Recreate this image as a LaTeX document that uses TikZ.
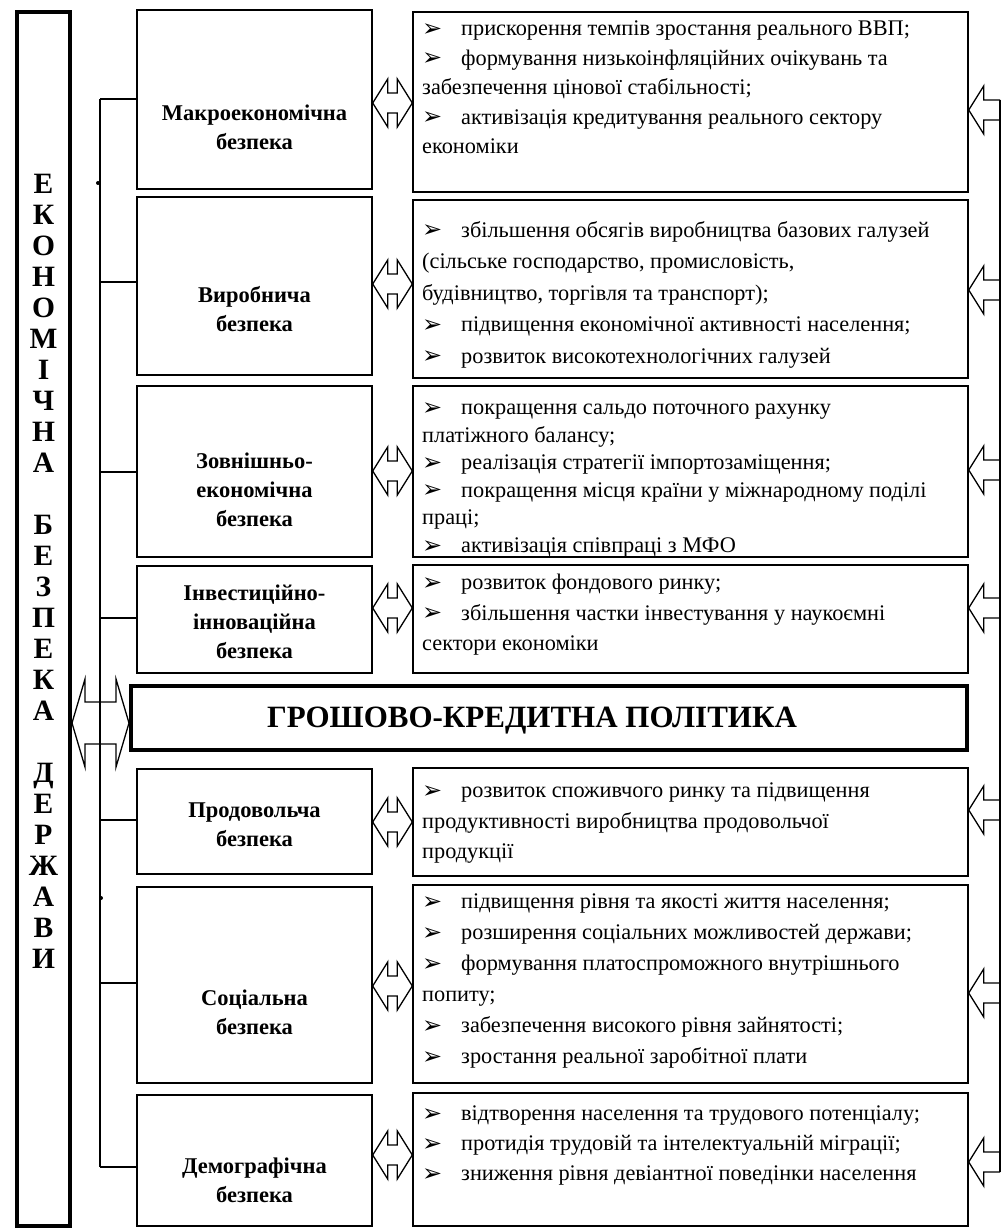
\documentclass[tikz,border=0pt]{standalone}
\usepackage{fontspec}
\setmainfont{Liberation Serif}
\newfontfamily\symf{DejaVu Sans}
\usetikzlibrary{calc}
\newcommand\bl{\makebox[39pt][l]{\raisebox{-0.5pt}{\symf\fontsize{24}{24}\selectfont ➢}}}
% double hollow arrow between two nodes at height y
\newcommand\dblarrow[6]{% left node, right node, y, head length, head half, shaft half
  \draw[arr] (#1.east|-0,#3) -- ++(#4,-#5) -- ++(0,{#5-#6})
    -- ($(#2.west|-0,#3)+(-#4,-#6)$) -- ++(0,{-(#5-#6)}) -- (#2.west|-0,#3)
    -- ++(-#4,#5) -- ++(0,{-(#5-#6)}) -- ($(#1.east|-0,#3)+(#4,#6)$)
    -- ++(0,{#5-#6}) -- cycle;}
% single hollow arrow from the right rail to a node
\newcommand\railarrow[2]{% node, y
  \draw[arr] (rail|-0,{#2-10}) -- ($(#1.east|-0,#2)+(15,-10)$) -- ++(0,-14)
    -- (#1.east|-0,#2) -- ++(15,24) -- ++(0,-14) -- (rail|-0,{#2+10});}
\begin{document}
\begin{tikzpicture}[x=1pt,y=-1pt,
  box/.style={draw, line width=1.4pt, inner sep=0pt},
  heavybox/.style={draw, line width=4pt, inner sep=0pt},
  lab/.style={font=\bfseries\fontsize{22.5}{29}\selectfont, align=center, inner sep=0pt},
  txt/.style={anchor=north west, inner sep=0pt, align=left},
  conn/.style={line width=1.4pt},
  arr/.style={line width=1.3pt, line join=miter}]
\useasboundingbox[fill=white] (0,0) rectangle (1005,1230);

% left state column
\node[heavybox, minimum width=53pt, minimum height=1213pt] (state) at (43.5,619) {};
\node[font=\bfseries\fontsize{29.5}{31}\selectfont, align=center, inner sep=0pt] (statetxt) at (43.5,571)
 {Е\\К\\О\\Н\\О\\М\\І\\Ч\\Н\\А\\~\\Б\\Е\\З\\П\\Е\\К\\А\\~\\Д\\Е\\Р\\Ж\\А\\В\\И};

% left category boxes
\node[box, minimum width=235pt, minimum height=179pt] (L1) at (254.5,99.5) {};
\node[box, minimum width=235pt, minimum height=178pt] (L2) at (254.5,286) {};
\node[box, minimum width=235pt, minimum height=171pt] (L3) at (254.5,471.5) {};
\node[box, minimum width=235pt, minimum height=107pt] (L4) at (254.5,619.5) {};
\node[box, minimum width=235pt, minimum height=105pt] (L5) at (254.5,821.5) {};
\node[box, minimum width=235pt, minimum height=196pt] (L6) at (254.5,985) {};
\node[box, minimum width=235pt, minimum height=131pt] (L7) at (254.5,1160.5) {};

\node[lab] (L1t) at (254.5,127.5) {Макроекономічна\\безпека};
\node[lab] (L2t) at (254.5,309) {Виробнича\\безпека};
\node[lab] (L3t) at (254.5,490) {Зовнішньо-\\економічна\\безпека};
\node[lab] (L4t) at (254.5,622) {Інвестиційно-\\інноваційна\\безпека};
\node[lab] (L5t) at (254.5,825) {Продовольча\\безпека};
\node[lab] (L6t) at (254.5,1012) {Соціальна\\безпека};
\node[lab] (L7t) at (254.5,1180) {Демографічна\\безпека};

% right content boxes
\node[box, minimum width=555pt, minimum height=180pt] (R1) at (690.5,102) {};
\node[box, minimum width=555pt, minimum height=178pt] (R2) at (690.5,289) {};
\node[box, minimum width=555pt, minimum height=171pt] (R3) at (690.5,471.5) {};
\node[box, minimum width=555pt, minimum height=108pt] (R4) at (690.5,619) {};
\node[box, minimum width=555pt, minimum height=108pt] (R5) at (690.5,822) {};
\node[box, minimum width=555pt, minimum height=198pt] (R6) at (690.5,984) {};
\node[box, minimum width=555pt, minimum height=133pt] (R7) at (690.5,1159.5) {};

\node[txt, font=\fontsize{22.3}{29.5}\selectfont] (R1t) at (422,21) {%
\bl прискорення темпів зростання реального ВВП;\\
\bl формування низькоінфляційних очікувань та\\
забезпечення цінової стабільності;\\
\bl активізація кредитування реального сектору\\
економіки};
\node[txt, font=\fontsize{22.3}{31.5}\selectfont] (R2t) at (422,221) {%
\bl збільшення обсягів виробництва базових галузей\\
(сільське господарство, промисловість,\\
будівництво, торгівля та транспорт);\\
\bl підвищення економічної активності населення;\\
\bl розвиток високотехнологічних галузей};
\node[txt, font=\fontsize{22.3}{27.6}\selectfont] (R3t) at (422,402) {%
\bl покращення сальдо поточного рахунку\\
платіжного балансу;\\
\bl реалізація стратегії імпортозаміщення;\\
\bl покращення місця країни у міжнародному поділі\\
праці;\\
\bl активізація співпраці з МФО};
\node[txt, font=\fontsize{22.3}{30.5}\selectfont] (R4t) at (422,574) {%
\bl розвиток фондового ринку;\\
\bl збільшення частки інвестування у наукоємні\\
сектори економіки};
\node[txt, font=\fontsize{22.3}{30.5}\selectfont] (R5t) at (422,783) {%
\bl розвиток споживчого ринку та підвищення\\
продуктивності виробництва продовольчої\\
продукції};
\node[txt, font=\fontsize{22.3}{31}\selectfont] (R6t) at (422,894) {%
\bl підвищення рівня та якості життя населення;\\
\bl розширення соціальних можливостей держави;\\
\bl формування платоспроможного внутрішнього\\
попиту;\\
\bl забезпечення високого рівня зайнятості;\\
\bl зростання реальної заробітної плати};
\node[txt, font=\fontsize{22.3}{30}\selectfont] (R7t) at (422,1106) {%
\bl відтворення населення та трудового потенціалу;\\
\bl протидія трудовій та інтелектуальній міграції;\\
\bl зниження рівня девіантної поведінки населення};

% central policy box
\node[heavybox, minimum width=836pt, minimum height=64pt] (gk) at (549,718) {};
\node[font=\bfseries\fontsize{31}{31}\selectfont, inner sep=0pt] (gkt) at (532,721) {ГРОШОВО-КРЕДИТНА ПОЛІТИКА};

% branch bus on the left
\coordinate (bus) at (100,0);
\draw[conn] (bus|-0,99) -- (bus|-0,1167);
\foreach \n/\y in {L1/99, L2/282, L3/472, L4/618, L5/820, L6/983, L7/1167}
  \draw[conn] (bus|-0,\y) -- (\n.west|-0,\y);
\fill (98,183) circle (2pt);
\fill (101,898) circle (2pt);

% big double arrow state <-> policy
\dblarrow{state}{gk}{723}{13}{44}{21}

% double arrows category <-> content
\dblarrow{L1}{R1}{103}{15}{24}{10}
\dblarrow{L2}{R2}{284}{15}{24}{10}
\dblarrow{L3}{R3}{471}{15}{24}{10}
\dblarrow{L4}{R4}{608}{15}{24}{10}
\dblarrow{L5}{R5}{822}{15}{24}{10}
\dblarrow{L6}{R6}{986}{15}{24}{10}
\dblarrow{L7}{R7}{1155}{15}{24}{10}

% right rail with single arrows
\coordinate (rail) at (1000,0);
\draw[conn] (rail|-0,100) -- (rail|-0,1172);
\railarrow{R1}{110}
\railarrow{R2}{290}
\railarrow{R3}{470}
\railarrow{R4}{608}
\railarrow{R5}{810}
\railarrow{R6}{993}
\railarrow{R7}{1162}
\end{tikzpicture}
\end{document}
